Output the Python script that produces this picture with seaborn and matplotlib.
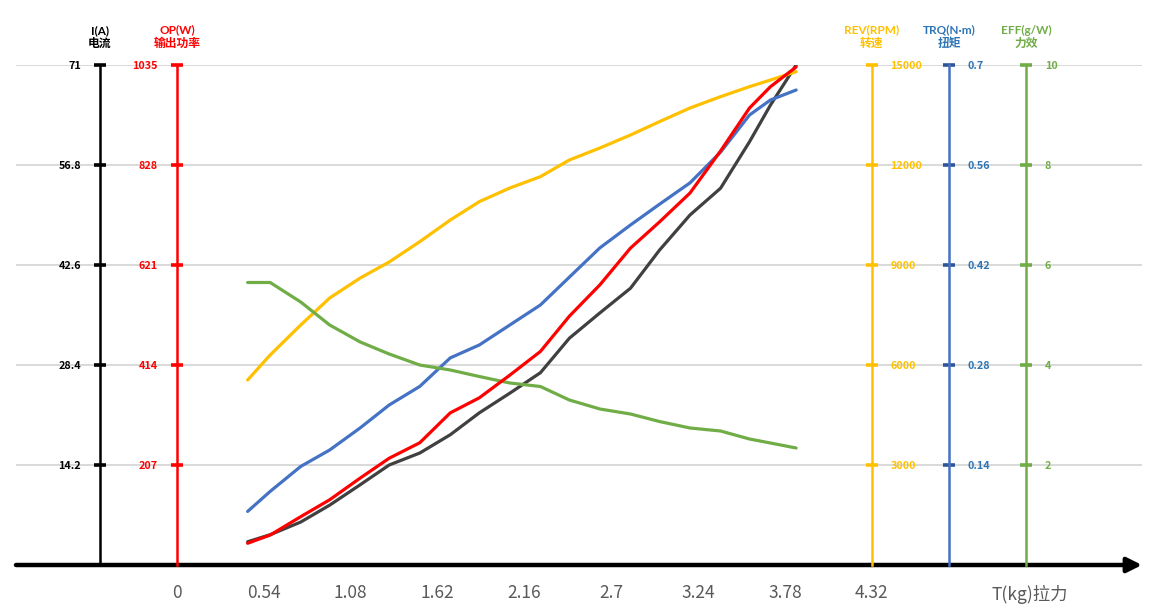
import numpy as np
import matplotlib
matplotlib.use("Agg")
import matplotlib.pyplot as plt
import matplotlib.transforms as mtransforms
import seaborn as sns

# ── Data ─────────────────────────────────────────────────────────────────────
thrust = [0.44, 0.58, 0.77, 0.95, 1.14, 1.32, 1.51, 1.70, 1.88, 2.07,
          2.26, 2.44, 2.63, 2.82, 3.00, 3.19, 3.38, 3.56, 3.69, 3.85]
current = [3.3, 4.3, 6.1, 8.5, 11.4, 14.2, 15.9, 18.5, 21.6, 24.4,
           27.3, 32.2, 35.8, 39.3, 44.7, 49.7, 53.5, 60.1, 65.3, 71.0]
power = [45, 62, 100, 135, 180, 221, 253, 315, 346, 393,
         442, 515, 580, 656, 710, 770, 857, 946, 990, 1031]
rpm = [5550, 6300, 7200, 8010, 8610, 9090, 9700, 10350, 10900, 11310,
       11650, 12150, 12510, 12900, 13300, 13710, 14050, 14350, 14550, 14800]
torque = [0.075, 0.103, 0.138, 0.161, 0.192, 0.224, 0.250, 0.290, 0.308, 0.336,
          0.364, 0.403, 0.444, 0.476, 0.505, 0.535, 0.578, 0.630, 0.651, 0.665]
efficiency = [5.65, 5.65, 5.26, 4.80, 4.46, 4.22, 4.00, 3.90, 3.77, 3.64,
              3.57, 3.30, 3.12, 3.02, 2.87, 2.74, 2.68, 2.52, 2.44, 2.34]

x_ticks = [0, 0.54, 1.08, 1.62, 2.16, 2.7, 3.24, 3.78, 4.32, 5.30]
x_labels = ["0", "0.54", "1.08", "1.62", "2.16", "2.7", "3.24", "3.78", "4.32", "T(kg)拉力"]

i_ticks = [14.2, 28.4, 42.6, 56.8, 71]
i_labels = ["14.2", "28.4", "42.6", "56.8", "71"]
p_ticks = [207, 414, 621, 828, 1035]
p_labels = ["207", "414", "621", "828", "1035"]
r_ticks = [3000, 6000, 9000, 12000, 15000]
r_labels = ["3000", "6000", "9000", "12000", "15000"]
t_ticks = [0.14, 0.28, 0.42, 0.56, 0.7]
t_labels = ["0.14", "0.28", "0.42", "0.56", "0.7"]
e_ticks = [2, 4, 6, 8, 10]
e_labels = ["2", "4", "6", "8", "10"]

# ── Style ────────────────────────────────────────────────────────────────────
sns.set_theme(style="white")
plt.rcParams["font.family"] = ["Noto Sans CJK SC", "DejaVu Sans"]

BLACK, CURVE_BLACK = "#000000", "#404040"
RED = "#FF0000"
GOLD = "#FFC000"
BLUE, BLUE_TXT, BLUE_TICK = "#4472C4", "#2E75B6", "#2F5597"
GREEN = "#70AD47"

fig = plt.figure(figsize=(11.54, 6.09), dpi=100)
ax = fig.add_axes([16 / 1154, 44 / 609, 1126 / 1154, 500 / 609])
ax.set_xlim(-1.0, 6.0)


def style_axis(a, side, xpos, line_color, tick_color, label_color, ymax, ticks, labels):
    a.set_ylim(0, ymax)
    for s in a.spines.values():
        s.set_visible(False)
    sp = a.spines[side]
    sp.set_visible(True)
    sp.set_position(("data", xpos))
    sp.set_color(line_color)
    sp.set_linewidth(1.8)
    a.yaxis.set_ticks_position(side)
    a.set_yticks(ticks)
    a.set_yticklabels(labels)
    a.tick_params(axis="y", direction="inout", length=9, width=2.6,
                  color=tick_color, labelcolor=label_color, pad=9, labelsize=7.8)
    for lab in a.get_yticklabels():
        lab.set_fontweight("bold")


ax_p = ax.twinx()
ax_r = ax.twinx()
ax_t = ax.twinx()
ax_e = ax.twinx()

style_axis(ax, "left", -0.48, BLACK, BLACK, BLACK, 71, i_ticks, i_labels)
style_axis(ax_p, "left", 0.0, RED, RED, RED, 1035, p_ticks, p_labels)
style_axis(ax_r, "right", 4.32, GOLD, GOLD, GOLD, 15000, r_ticks, r_labels)
style_axis(ax_t, "right", 4.80, BLUE, BLUE_TICK, BLUE_TXT, 0.7, t_ticks, t_labels)
style_axis(ax_e, "right", 5.28, GREEN, GREEN, GREEN, 10, e_ticks, e_labels)

# grid lines
ax.yaxis.grid(True, color="#D9D9D9", linewidth=1.4)
ax.set_axisbelow(True)

# ── Curves ───────────────────────────────────────────────────────────────────
lw = 2.3
sns.lineplot(x=thrust, y=efficiency, ax=ax_e, color=GREEN, linewidth=lw, legend=False)
sns.lineplot(x=thrust, y=rpm, ax=ax_r, color=GOLD, linewidth=lw, legend=False)
sns.lineplot(x=thrust, y=torque, ax=ax_t, color=BLUE, linewidth=lw, legend=False)
sns.lineplot(x=thrust, y=current, ax=ax, color=CURVE_BLACK, linewidth=lw, legend=False)
sns.lineplot(x=thrust, y=power, ax=ax_p, color=RED, linewidth=lw, legend=False)
for a in (ax, ax_p, ax_r, ax_t, ax_e):
    a.set_xlabel("")
    a.set_ylabel("")
ax_p.set_zorder(ax_e.get_zorder() + 1)
ax_p.patch.set_visible(False)

# ── X axis with arrow ────────────────────────────────────────────────────────
ax.set_xticks(x_ticks)
ax.set_xticklabels(x_labels)
ax.tick_params(axis="x", length=0, pad=14, labelsize=12.5, labelcolor="#595959")
ax.annotate("", xy=(6.0, 0), xytext=(-1.0, 0), xycoords="data",
            arrowprops=dict(arrowstyle="-|>", color="black", lw=3.2,
                            mutation_scale=22, shrinkA=0, shrinkB=0),
            annotation_clip=False)

# ── Axis headers ─────────────────────────────────────────────────────────────
trans = mtransforms.blended_transform_factory(ax.transData, ax.transAxes)
headers = [(-0.48, "I(A)\n电流", BLACK), (0.0, "OP(W)\n输出功率", RED),
           (4.32, "REV(RPM)\n转速", GOLD), (4.80, "TRQ(N·m)\n扭矩", BLUE_TXT),
           (5.28, "EFF(g/W)\n力效", GREEN)]
for xpos, txt, col in headers:
    ax.text(xpos, 1.033, txt, transform=trans, ha="center", va="bottom",
            color=col, fontsize=8.5, fontweight="bold", linespacing=1.15,
            family=["Lato", "Noto Sans CJK SC"])

fig.savefig("out.png", dpi=100)
